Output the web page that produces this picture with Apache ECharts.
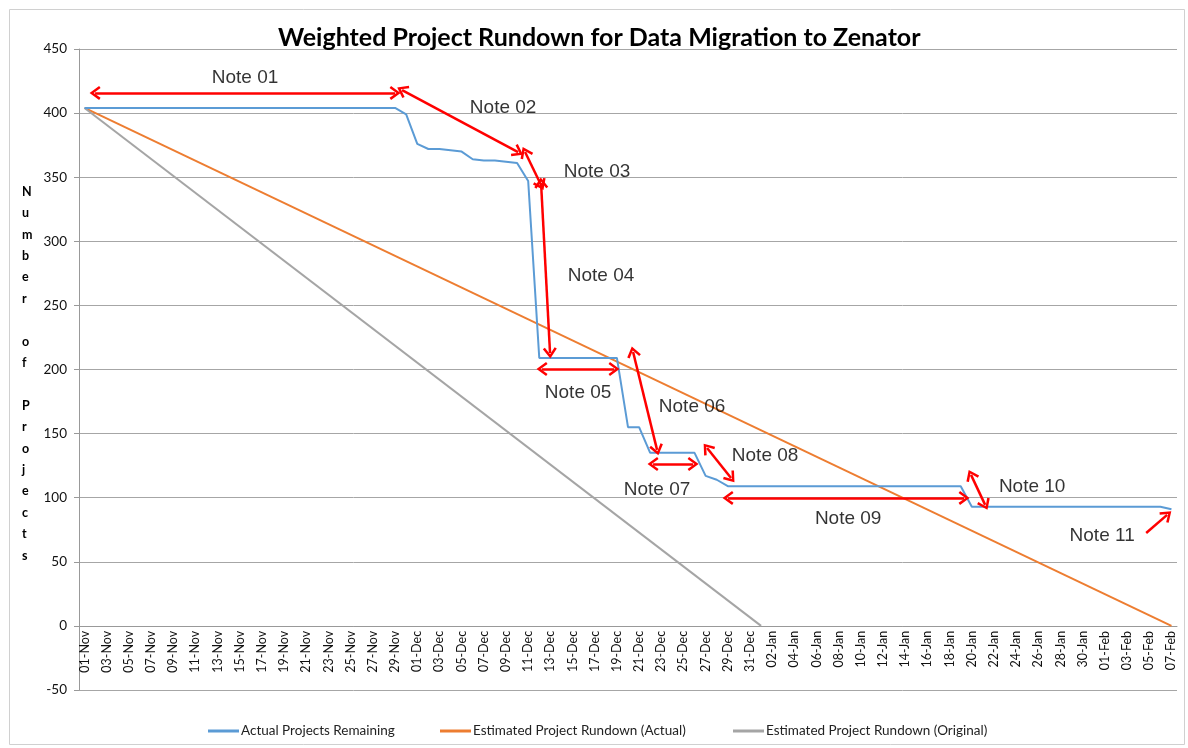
<!DOCTYPE html>
<html>
<head>
<meta charset="utf-8">
<script src="https://cdn.jsdelivr.net/npm/echarts@6/dist/echarts.min.js"></script>
<style>
html,body{margin:0;padding:0;background:#fff;}
#c{width:1188px;height:748px;}
</style>
</head>
<body>
<div id="c"></div>
<script>
const categories = [
'01-Nov','02-Nov','03-Nov','04-Nov','05-Nov','06-Nov','07-Nov','08-Nov','09-Nov','10-Nov',
'11-Nov','12-Nov','13-Nov','14-Nov','15-Nov','16-Nov','17-Nov','18-Nov','19-Nov','20-Nov',
'21-Nov','22-Nov','23-Nov','24-Nov','25-Nov','26-Nov','27-Nov','28-Nov','29-Nov','30-Nov',
'01-Dec','02-Dec','03-Dec','04-Dec','05-Dec','06-Dec','07-Dec','08-Dec','09-Dec','10-Dec',
'11-Dec','12-Dec','13-Dec','14-Dec','15-Dec','16-Dec','17-Dec','18-Dec','19-Dec','20-Dec',
'21-Dec','22-Dec','23-Dec','24-Dec','25-Dec','26-Dec','27-Dec','28-Dec','29-Dec','30-Dec',
'31-Dec','01-Jan','02-Jan','03-Jan','04-Jan','05-Jan','06-Jan','07-Jan','08-Jan','09-Jan',
'10-Jan','11-Jan','12-Jan','13-Jan','14-Jan','15-Jan','16-Jan','17-Jan','18-Jan','19-Jan',
'20-Jan','21-Jan','22-Jan','23-Jan','24-Jan','25-Jan','26-Jan','27-Jan','28-Jan','29-Jan',
'30-Jan','31-Jan','01-Feb','02-Feb','03-Feb','04-Feb','05-Feb','06-Feb','07-Feb'
];

const actualRemaining = [
404,404,404,404,404,404,404,404,404,404,
404,404,404,404,404,404,404,404,404,404,
404,404,404,404,404,404,404,404,404,399,
376,372,372,371,370,364,363,363,362,361,
347,209,209,209,209,209,209,209,209,155,
155,135,135,135,135,135,117,114,109,109,
109,109,109,109,109,109,109,109,109,109,
109,109,109,109,109,109,109,109,109,109,
93,93,93,93,93,93,93,93,93,93,
93,93,93,93,93,93,93,93,91
];

// straight estimate lines: [category, value] anchor points
const estimatedActual = [['01-Nov', 404], ['07-Feb', 0]];
const estimatedOriginal = [['01-Nov', 404], ['01-Jan', 0]];

const seriesNames = ['Actual Projects Remaining', 'Estimated Project Rundown (Actual)', 'Estimated Project Rundown (Original)'];
const yTicks = { min: -50, max: 450, step: 50 };

// annotation arrows: [x1, y1, x2, y2, bothEnds] in (day index, projects)
const noteArrows = [
  [0.95, 415.7, 28.0, 415.7, true],
  [28.63, 418.0, 39.09, 369.6, true],
  [39.72, 369.6, 41.16, 343.9, true],
  [41.16, 345.5, 41.97, 212.9, true],
  [41.25, 200.4, 47.74, 200.4, true],
  [49.46, 213.7, 51.62, 137.3, true],
  [51.26, 126.3, 54.87, 126.3, true],
  [56.13, 138.8, 58.29, 115.4, true],
  [58.02, 99.8, 79.3, 99.8, true],
  [79.93, 117.8, 81.2, 94.4, true],
  [95.72, 72.5, 97.61, 86.6, false]
];
const noteLabels = ['Note 01','Note 02','Note 03','Note 04','Note 05','Note 06','Note 07','Note 08','Note 09','Note 10','Note 11'];
const notePositions = [
  [14.47, 427.4],[37.74, 404.0],[46.21, 354.0],[46.57, 273.0],[44.50, 181.7],
  [54.78, 170.8],[51.62, 106.0],[61.36, 132.6],[68.85, 83.4],[85.44, 108.4],[91.75, 70.2]
];

const chevron = 'path://M0,13 L10,0 L20,13 L17,15 L10,5.6 L3,15 Z';

const chart = echarts.init(document.getElementById('c'));
const labelFont = 'Lato, "Open Sans", sans-serif';

const markData = noteArrows.map(a => [
  { coord: [a[0], a[1]], symbol: a[4] ? chevron : 'none', symbolSize: [14, 11] },
  { coord: [a[2], a[3]], symbol: chevron, symbolSize: [14, 11] }
]);

const legendText = { fontFamily: labelFont, fontSize: 13.5, color: '#222', padding: [0, 0, 0, -3] };

const option = {
  backgroundColor: '#fff',
  animation: false,
  title: {
    text: 'Weighted Project Rundown for Data Migration to Zenator',
    left: 278, top: 25, padding: 0,
    textStyle: { fontFamily: labelFont, fontSize: 25, fontWeight: 'bold', color: '#000' }
  },
  grid: { left: 79, right: 11, top: 49, bottom: 58 },
  legend: [
    { data: [seriesNames[0]], left: 208, top: 724, padding: 0, itemWidth: 31, itemHeight: 3, icon: 'rect', textStyle: legendText },
    { data: [seriesNames[1]], left: 440, top: 724, padding: 0, itemWidth: 31, itemHeight: 3, icon: 'rect', textStyle: legendText },
    { data: [seriesNames[2]], left: 733, top: 724, padding: 0, itemWidth: 31, itemHeight: 3, icon: 'rect', textStyle: legendText }
  ],
  xAxis: [
    {
      type: 'category', data: categories, boundaryGap: true, position: 'bottom', offset: -64.1,
      axisLine: { onZero: false, lineStyle: { color: '#999', width: 1 } },
      axisTick: { interval: 1, length: 5, lineStyle: { color: '#999' } },
      axisLabel: { interval: 1, rotate: 90, fontFamily: labelFont, fontSize: 12.5, color: '#111', margin: 5 },
      splitLine: { show: false }
    },
    { type: 'value', min: -0.5, max: 98.5, show: false, position: 'top', axisLine: { onZero: false } }
  ],
  yAxis: {
    type: 'value', min: yTicks.min, max: yTicks.max, interval: yTicks.step,
    axisLine: { show: true, onZero: false, lineStyle: { color: '#999' } },
    axisTick: { show: true, length: 5, lineStyle: { color: '#999' } },
    axisLabel: { fontFamily: labelFont, fontSize: 13.5, color: '#111', margin: 12 },
    splitLine: { lineStyle: { color: '#a6a6a6', width: 1 } }
  },
  graphic: [
    { type: 'rect', shape: { x: 9.5, y: 9.5, width: 1175, height: 735 },
      style: { fill: 'none', stroke: '#d0d0d0', lineWidth: 1 }, silent: true },
    { type: 'text', left: 22, top: 181,
      style: { text: 'N\nu\nm\nb\ne\nr\n \no\nf\n \nP\nr\no\nj\ne\nc\nt\ns',
        font: 'bold 12.5px ' + labelFont, lineHeight: 21.4, fill: '#000', align: 'center' } }
  ],
  series: [
    { name: seriesNames[0], type: 'line', data: actualRemaining, showSymbol: false, symbol: 'none',
      lineStyle: { color: '#5b9bd5', width: 2 }, itemStyle: { color: '#5b9bd5' }, z: 3 },
    { name: seriesNames[1], type: 'line', data: estimatedActual, showSymbol: false, symbol: 'none',
      lineStyle: { color: '#ed7d31', width: 2 }, itemStyle: { color: '#ed7d31' }, z: 2 },
    { name: seriesNames[2], type: 'line', data: estimatedOriginal, showSymbol: false, symbol: 'none',
      lineStyle: { color: '#a5a5a5', width: 2 }, itemStyle: { color: '#a5a5a5' }, z: 2 },
    { name: 'notes', type: 'scatter', xAxisIndex: 1, data: notePositions.map((p, i) => ({ value: p, name: noteLabels[i] })),
      symbolSize: 1, itemStyle: { color: 'rgba(0,0,0,0)' }, z: 5,
      label: { show: true, position: 'inside', formatter: '{b}', fontFamily: '"Liberation Sans", Arial, sans-serif',
        fontSize: 19, color: '#000' },
      markLine: {
        silent: true, symbol: [chevron, chevron], symbolSize: [14, 11], precision: 4,
        lineStyle: { color: '#ff0000', width: 2.5, type: 'solid' },
        label: { show: false },
        data: markData
      }
    }
  ]
};
chart.setOption(option);
</script>
</body>
</html>
